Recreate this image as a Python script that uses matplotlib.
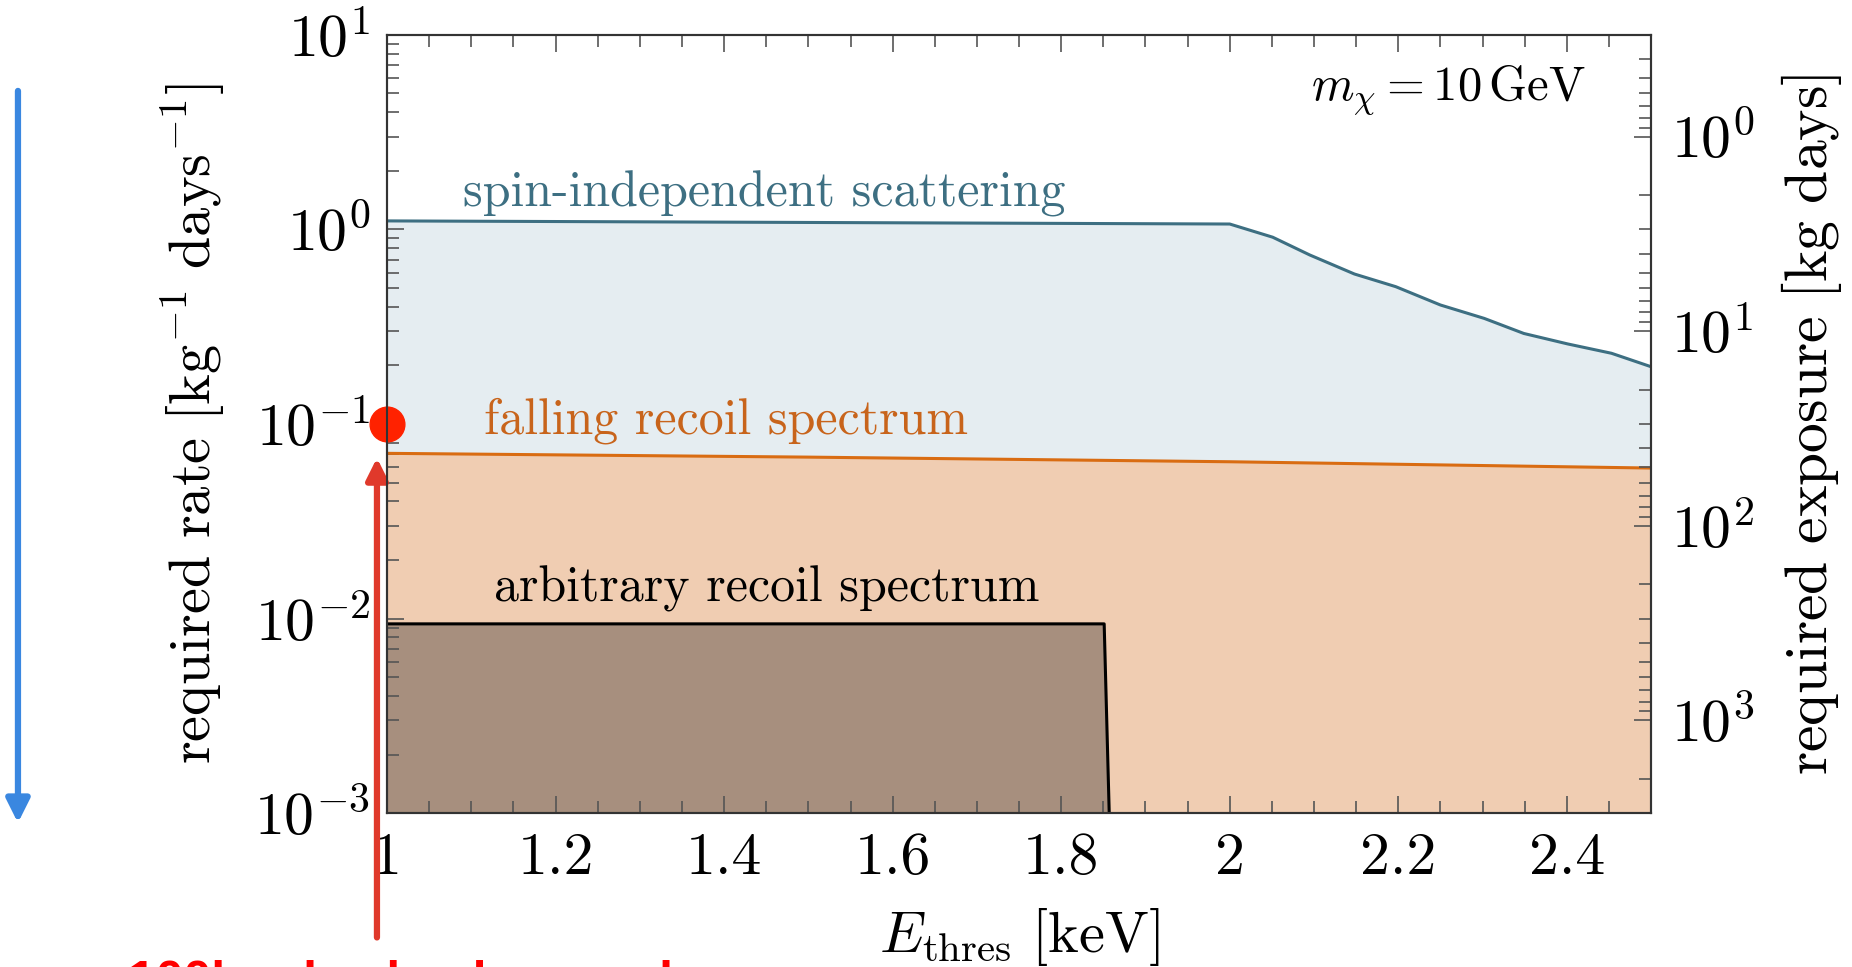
import numpy as np
import matplotlib
matplotlib.use("Agg")
import matplotlib.pyplot as plt
from matplotlib.ticker import MultipleLocator, FuncFormatter, FormatStrFormatter, LogLocator

plt.rcParams['font.family'] = 'serif'
plt.rcParams['font.serif'] = ['cmr10']
plt.rcParams['mathtext.fontset'] = 'cm'
plt.rcParams['axes.unicode_minus'] = False

# spin-independent scattering (threshold energy in keV, rate in kg^-1 days^-1)
si_E = [1.0, 2.0, 2.051, 2.095, 2.148, 2.197, 2.25, 2.302, 2.349, 2.401, 2.453, 2.5]
si_rate = [1.106, 1.066, 0.912, 0.739, 0.59, 0.508, 0.409, 0.349, 0.292, 0.258, 0.231, 0.197]

# falling recoil spectrum
fall_E = [1.0, 1.5, 2.0, 2.5]
fall_rate = [0.0707, 0.0676, 0.0640, 0.0594]

# arbitrary recoil spectrum
arb_E = [1.0, 1.851, 1.857]
arb_rate = [0.0094, 0.0094, 0.001]

# required exposure = 3 events / rate
n_events = 3.0
ymin, ymax = 1e-3, 1e1

fig = plt.figure(figsize=(18.52, 9.67), dpi=100)
ax = fig.add_axes([0.209, 0.159, 0.6825, 0.805])

ax.fill_between(si_E, si_rate, ymin, color='#e5edf1', lw=0)
ax.fill_between(fall_E, fall_rate, ymin, color='#f0cdb2', lw=0)
ax.fill_between(arb_E, arb_rate, ymin, color='#a78f7e', lw=0)
ax.plot(si_E, si_rate, color='#3d6f82', lw=2.2)
ax.plot(fall_E, fall_rate, color='#d96c12', lw=2.2)
ax.plot(arb_E, arb_rate, color='black', lw=2.2)

ax.set_yscale('log')
ax.set_xlim(1, 2.5)
ax.set_ylim(ymin, ymax)
ax.xaxis.set_major_locator(MultipleLocator(0.2))
ax.xaxis.set_minor_locator(MultipleLocator(0.05))
ax.xaxis.set_major_formatter(FormatStrFormatter('%g'))
ax.yaxis.set_major_formatter(FuncFormatter(lambda v, p: r'$10^{%d}$' % round(np.log10(v))))

ax.tick_params(which='both', direction='in', top=True, right=False, color='#555555', width=1.2,
               labelsize=43)
ax.tick_params(which='major', length=12)
ax.tick_params(which='minor', length=8.5)
ax.tick_params(axis='x', pad=14)
ax.tick_params(axis='y', pad=12)
for s in ax.spines.values():
    s.set_linewidth(1.5)
    s.set_color('#333333')

ax.set_xlabel(r'$E_\mathrm{thres}\ \mathrm{[keV]}$', fontsize=42, labelpad=14)
ax.set_ylabel(r'$\mathrm{required\ rate\ [kg^{-1}\ days^{-1}]}$', fontsize=42, labelpad=20)

ax2 = ax.twinx()
ax2.set_yscale('log')
ax2.set_ylim(n_events / ymin, n_events / ymax)
ax2.yaxis.set_major_locator(LogLocator(base=10))
ax2.yaxis.set_minor_locator(LogLocator(base=10, subs=np.arange(2, 10)))
ax2.yaxis.set_major_formatter(FuncFormatter(lambda v, p: r'$10^{%d}$' % round(np.log10(v))))
ax2.tick_params(which='both', direction='in', color='#555555', width=1.2, labelsize=43, pad=14)
ax2.tick_params(which='major', length=12)
ax2.tick_params(which='minor', length=8.5)
ax2.set_ylabel(r'$\mathrm{required\ exposure\ [kg\ days]}$', fontsize=43, labelpad=18)
for s in ax2.spines.values():
    s.set_linewidth(1.5)
    s.set_color('#333333')

ax.text(1.09, 1.52, 'spin-independent scattering', color='#3d6f82', fontsize=36, va='center')
ax.text(1.115, 0.104, 'falling recoil spectrum', color='#c8641b', fontsize=36, va='center')
ax.text(1.127, 0.0143, 'arbitrary recoil spectrum', color='black', fontsize=36, va='center')
ax.text(2.423, 5.2, r'$m_\chi = 10\,\mathrm{GeV}$', fontsize=35, ha='right', va='center')

# red marker and arrow
ax.plot([1.0], [0.1], 'o', color='#ff2200', ms=25, clip_on=False, zorder=10)
ax.annotate('', xy=(0.988, 0.067), xytext=(0.988, 2.3e-4), xycoords='data',
            arrowprops=dict(arrowstyle='-|>', color='#e0392b', lw=4.5, mutation_scale=32,
                            shrinkA=0, shrinkB=0),
            annotation_clip=False, zorder=10)

# blue arrow on the left
fig.add_artist(matplotlib.patches.FancyArrowPatch((0.0097, 0.906), (0.0097, 0.149),
               transform=fig.transFigure, arrowstyle='-|>', color='#3a87e0', lw=4.5,
               mutation_scale=35, shrinkA=0, shrinkB=0))

fig.text(0.069, -0.03, '100kg-day background', color='#ff0000', fontsize=36,
         fontweight='bold', family='Liberation Sans', va='baseline')

fig.savefig('out.png', dpi=100)
